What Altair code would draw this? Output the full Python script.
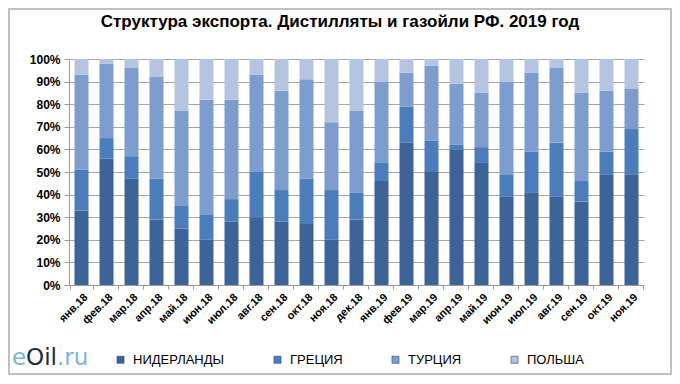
import altair as alt
import pandas as pd

months = ["янв.18", "фев.18", "мар.18", "апр.18", "май.18", "июн.18", "июл.18", "авг.18",
          "сен.18", "окт.18", "ноя.18", "дек.18", "янв.19", "фев.19", "мар.19", "апр.19",
          "май.19", "июн.19", "июл.19", "авг.19", "сен.19", "окт.19", "ноя.19"]
series = ["НИДЕРЛАНДЫ", "ГРЕЦИЯ", "ТУРЦИЯ", "ПОЛЬША"]
netherlands = [33, 56, 47, 29, 25, 20, 28, 30, 28, 27, 20, 29, 46, 63, 50, 60, 54, 39, 41, 39, 37, 49, 49]
greece      = [18,  9, 10, 18, 10, 11, 10, 20, 14, 20, 22, 12,  8, 16, 14,  2,  7, 10, 18, 24,  9, 10, 20]
turkey      = [42, 33, 39, 45, 42, 51, 44, 43, 44, 44, 30, 36, 36, 15, 33, 27, 24, 41, 35, 33, 39, 27, 18]
poland      = [ 7,  2,  4,  8, 23, 18, 18,  7, 14,  9, 28, 23, 10,  6,  3, 11, 15, 10,  6,  4, 15, 14, 13]
colors = ["#3D6398", "#4A7DBA", "#7E9DCF", "#B5C4E1"]
title_text = "Структура экспорта. Дистилляты и газойли РФ. 2019 год"

rows = []
for i, m in enumerate(months):
    for k, (name, vals) in enumerate(zip(series, [netherlands, greece, turkey, poland])):
        rows.append({"month": m, "series": name, "value": vals[i], "order": k})
df = pd.DataFrame(rows)

W, H = 575, 226
one = "datum.order == 0 && datum.month == 'янв.18'"

bars = alt.Chart(df).mark_bar(size=14).encode(
    x=alt.X("month:N", sort=months, title=None,
            axis=alt.Axis(labelAngle=-45, labelFontSize=11, labelFontWeight="bold",
                          labelColor="#000", domainColor="#999", tickColor="#999",
                          tickBand="extent", tickSize=4, labelPadding=2, grid=False)),
    y=alt.Y("value:Q", stack="normalize", title=None,
            scale=alt.Scale(domain=[0, 1]),
            axis=alt.Axis(format=".0%", values=[i / 10 for i in range(11)],
                          labelFontSize=12, labelFontWeight="bold", labelColor="#000",
                          domainColor="#999", tickColor="#999", tickSize=5,
                          gridColor="#a6a6a6", gridWidth=1, labelPadding=4)),
    color=alt.Color("series:N", sort=series,
                    scale=alt.Scale(domain=series, range=colors),
                    legend=alt.Legend(title=None, orient="none", direction="horizontal",
                                      legendX=45, legendY=294, symbolType="square",
                                      symbolSize=50, symbolStrokeColor="#2a4a75",
                                      symbolStrokeWidth=0.6,
                                      labelFontSize=13, labelFont="Liberation Sans",
                                      labelColor="#000", columnPadding=46, labelOffset=6)),
    order=alt.Order("order:Q", sort="ascending"),
)

frame = alt.Chart(df).mark_rect(fill=None, stroke="#c0c0c0", strokeWidth=2).encode(
    x=alt.value(-60), x2=alt.value(W + 27), y=alt.value(-50), y2=alt.value(H + 89)
).transform_filter(one)

title = alt.Chart(df).mark_text(align="center", baseline="middle", fontSize=17,
                                font="Liberation Sans", fontWeight="bold",
                                color="#000").encode(
    x=alt.value(271), y=alt.value(-37), text=alt.value(title_text)
).transform_filter(one)

logo_e = alt.Chart(df).mark_text(align="left", baseline="alphabetic", fontSize=23,
                                 font="DejaVu Sans", color="#7FB2DE").encode(
    x=alt.value(-57), y=alt.value(306), text=alt.value("e")
).transform_filter(one)
logo_oil = alt.Chart(df).mark_text(align="left", baseline="alphabetic", fontSize=23,
                                   font="DejaVu Sans", color="#1c2c44").encode(
    x=alt.value(-42.9), y=alt.value(306), text=alt.value("Oil")
).transform_filter(one)
logo_ru = alt.Chart(df).mark_text(align="left", baseline="alphabetic", fontSize=23,
                                  font="DejaVu Sans", color="#7FB2DE").encode(
    x=alt.value(-12), y=alt.value(306), text=alt.value(".ru")
).transform_filter(one)

chart = alt.layer(frame, bars, title, logo_e, logo_oil, logo_ru).properties(
    width=W, height=H,
    padding={"left": 61, "top": 51, "right": 28, "bottom": 91},
    autosize=alt.AutoSizeParams(type="none"),
).configure_view(stroke=None).configure_axis(labelFont="Liberation Sans")

chart.save("out.html", embed_options={"renderer": "svg", "actions": False})
